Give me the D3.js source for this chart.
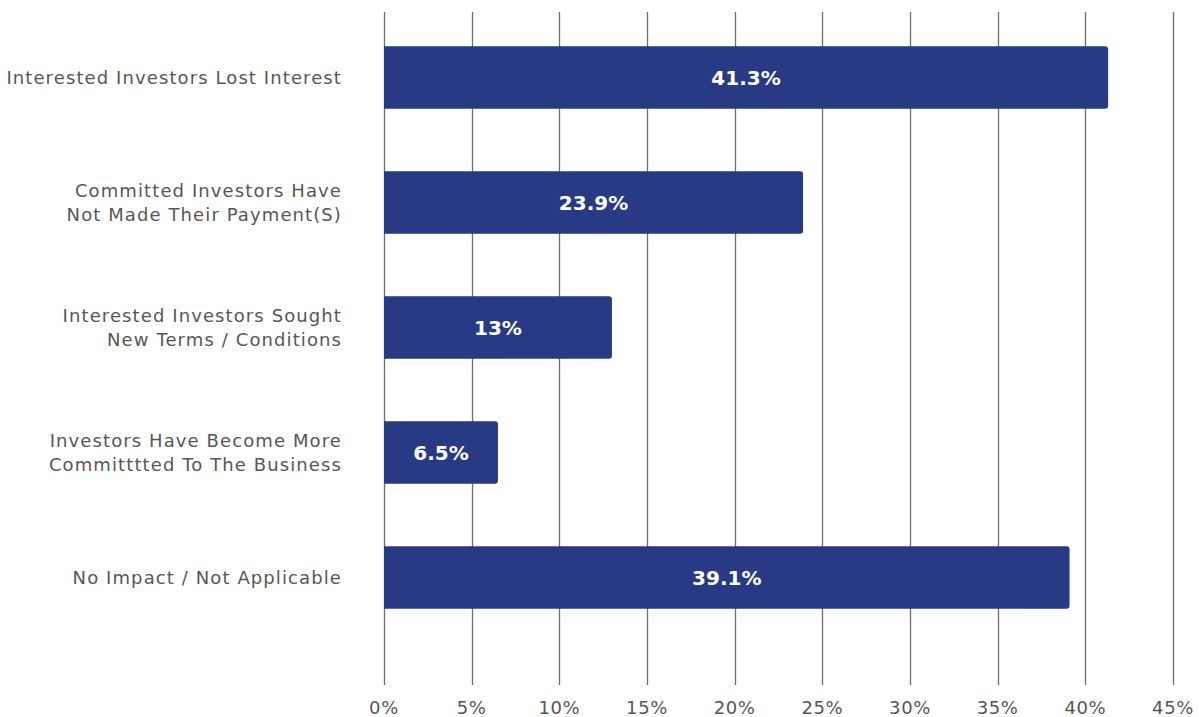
<!DOCTYPE html>
<html>
<head>
<meta charset="utf-8">
<script src="https://cdn.jsdelivr.net/npm/d3@7"></script>
<style>
  html, body { margin: 0; padding: 0; background: #fff; }
  svg { display: block; }
  .cat { font-family: "DejaVu Sans", sans-serif; font-size: 18px; letter-spacing: 1.1px; fill: #575757; }
  .tick-label { font-family: "DejaVu Sans", sans-serif; font-size: 18px; letter-spacing: 0.6px; fill: #575757; }
  .val { font-family: "DejaVu Sans", sans-serif; font-weight: bold; font-size: 20px; fill: #fff; }
</style>
</head>
<body>
<svg id="chart" width="1199" height="717"></svg>
<script>
// Survey responses: impact on investors
const categories = [
  ["Interested Investors Lost Interest"],
  ["Committed Investors Have", "Not Made Their Payment(S)"],
  ["Interested Investors Sought", "New Terms / Conditions"],
  ["Investors Have Become More", "Committtted To The Business"],
  ["No Impact / Not Applicable"]
];
const values = [41.3, 23.9, 13, 6.5, 39.1];
const valueLabels = ["41.3%", "23.9%", "13%", "6.5%", "39.1%"];
const tickValues = [0, 5, 10, 15, 20, 25, 30, 35, 40, 45];
const tickLabels = ["0%", "5%", "10%", "15%", "20%", "25%", "30%", "35%", "40%", "45%"];

const svg = d3.select("#chart");
const left = 384, right = 1173;
const gridTop = 12, gridBottom = 685;

const x = d3.scaleLinear().domain([0, 45]).range([left, right]);
const y = d3.scaleBand()
  .domain(d3.range(categories.length))
  .range([15, 640])
  .paddingInner(0.5)
  .paddingOuter(0.25);

// vertical gridlines
svg.append("g").selectAll("line")
  .data(tickValues)
  .join("line")
  .attr("x1", d => Math.round(x(d)) + 0.5)
  .attr("x2", d => Math.round(x(d)) + 0.5)
  .attr("y1", gridTop)
  .attr("y2", gridBottom)
  .attr("stroke", "#6e6e6e")
  .attr("stroke-width", 1.3);

// x axis tick labels
svg.append("g").selectAll("text")
  .data(tickValues)
  .join("text")
  .attr("class", "tick-label")
  .attr("x", d => x(d))
  .attr("y", 714)
  .attr("text-anchor", "middle")
  .text((d, i) => tickLabels[i]);

// bars
svg.append("g").selectAll("path")
  .data(values)
  .join("path")
  .attr("fill", "#283a83")
  .attr("d", (d, i) => {
    const x0 = x(0), x1 = x(d), y0 = y(i), h = y.bandwidth(), r = 3;
    return `M${x0},${y0}H${x1 - r}Q${x1},${y0} ${x1},${y0 + r}V${y0 + h - r}Q${x1},${y0 + h} ${x1 - r},${y0 + h}H${x0}Z`;
  });

// value labels
svg.append("g").selectAll("text")
  .data(values)
  .join("text")
  .attr("class", "val")
  .attr("x", d => (x(0) + x(d)) / 2)
  .attr("y", (d, i) => y(i) + y.bandwidth() / 2)
  .attr("dy", "0.36em")
  .attr("text-anchor", "middle")
  .text((d, i) => valueLabels[i]);

// category labels
const lineH = 24;
const catG = svg.append("g").selectAll("text")
  .data(categories)
  .join("text")
  .attr("class", "cat")
  .attr("text-anchor", "end")
  .attr("x", 342)
  .attr("y", (d, i) => y(i) + y.bandwidth() / 2);
catG.selectAll("tspan")
  .data(d => d.map((t, j) => ({ t, j, n: d.length })))
  .join("tspan")
  .attr("x", 342)
  .attr("dy", d => d.j === 0 ? ((-(d.n - 1) / 2) * lineH + 6.5) + "px" : lineH + "px")
  .text(d => d.t);
</script>
</body>
</html>
